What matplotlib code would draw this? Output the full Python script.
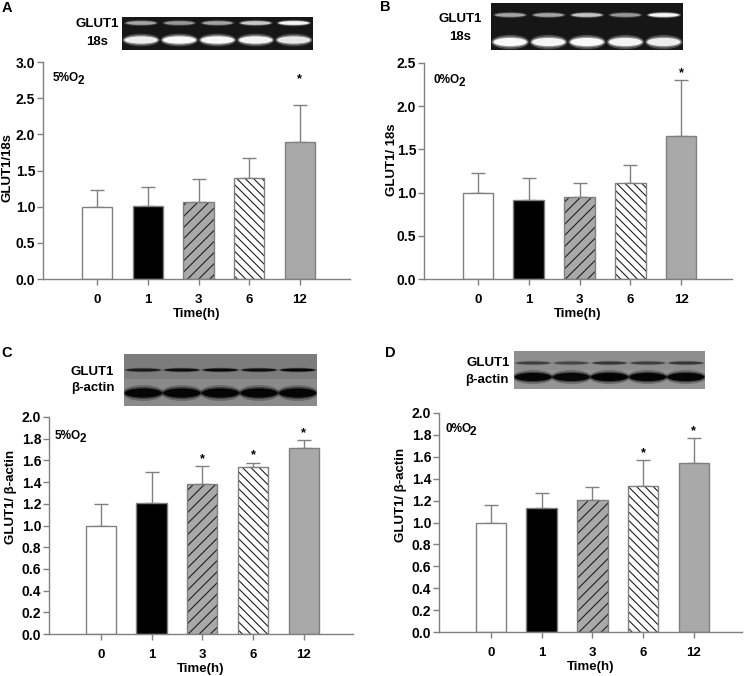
import matplotlib
matplotlib.use('Agg')
import matplotlib.pyplot as plt
from matplotlib.patches import Ellipse, Rectangle
import numpy as np

plt.rcParams['font.family'] = ['Liberation Sans', 'DejaVu Sans']
plt.rcParams['font.weight'] = 'bold'
plt.rcParams['hatch.linewidth'] = 0.8

# ---------------- data ----------------
times = ['0', '1', '3', '6', '12']

a_mean = [1.00, 1.01, 1.06, 1.39, 1.89]
a_upper = [1.23, 1.27, 1.38, 1.67, 2.40]
a_sig = [False, False, False, False, True]

b_mean = [1.00, 0.91, 0.95, 1.11, 1.66]
b_upper = [1.23, 1.17, 1.11, 1.32, 2.30]
b_sig = [False, False, False, False, True]

c_mean = [1.00, 1.21, 1.38, 1.54, 1.71]
c_upper = [1.20, 1.49, 1.55, 1.58, 1.79]
c_sig = [False, False, True, True, True]

d_mean = [1.00, 1.13, 1.21, 1.33, 1.54]
d_upper = [1.16, 1.27, 1.32, 1.57, 1.77]
d_sig = [False, False, False, True, True]

# blot band intensities per lane (0..1)
a_glut1_band = [0.45, 0.40, 0.45, 0.62, 0.92]
a_18s_band = [0.85, 0.95, 0.95, 0.90, 0.80]
b_glut1_band = [0.45, 0.45, 0.60, 0.40, 0.92]
b_18s_band = [0.95, 0.90, 0.95, 0.90, 0.85]
c_glut1_band = [0.65, 0.80, 0.85, 0.80, 0.90]
c_actin_band = [0.92, 0.92, 0.92, 0.92, 0.92]
d_glut1_band = [0.40, 0.35, 0.45, 0.40, 0.45]
d_actin_band = [0.92, 0.88, 0.95, 0.92, 0.92]

# ---------------- styling ----------------
W, H = 745, 676
GRAY = '#808080'
bar_fill = ['white', 'black', '#a9a9a9', 'white', '#a9a9a9']
bar_hatch = [None, None, '///', '\\\\\\\\', None]

fig = plt.figure(figsize=(W / 100, H / 100), dpi=100)


def fr(l, t, r, b):
    return [l / W, 1 - b / H, (r - l) / W, (b - t) / H]


def ftext(x, y, s, **kw):
    fig.text(x / W, 1 - y / H, s, **kw)


def panel(px, xlim, ymax, ystep, means, uppers, sig, star_off, ylabel,
          ylab_px, o2, o2_px):
    l, t, r, b = px
    ax = fig.add_axes(fr(*px))
    x = np.arange(len(times))
    for i in range(len(times)):
        if bar_hatch[i]:
            ax.bar(x[i], means[i], width=0.6, color=bar_fill[i],
                   hatch=bar_hatch[i], edgecolor='#202020', linewidth=0,
                   zorder=2)
            ax.bar(x[i], means[i], width=0.6, fill=False, edgecolor=GRAY,
                   linewidth=1, zorder=3)
        else:
            ax.bar(x[i], means[i], width=0.6, color=bar_fill[i],
                   edgecolor=GRAY, linewidth=1, zorder=2)
    err = np.array(uppers) - np.array(means)
    ax.errorbar(x, means, yerr=[np.zeros_like(err), err], fmt='none',
                ecolor=GRAY, elinewidth=1, capsize=5, capthick=1, zorder=1)
    for i in range(len(times)):
        if sig[i]:
            ax.annotate('*', (x[i], uppers[i]), xytext=(0, star_off * 0.72),
                        textcoords='offset points', ha='center',
                        va='baseline', fontsize=9, fontweight='bold')
    ax.set_xlim(*xlim)
    ax.set_ylim(0, ymax)
    yt = np.arange(0, ymax + 1e-6, ystep)
    ax.set_yticks(yt)
    ax.set_yticklabels(['%.1f' % v for v in yt])
    ax.set_xticks(x)
    ax.set_xticklabels(times)
    for s in ['top', 'right']:
        ax.spines[s].set_visible(False)
    for s in ['left', 'bottom']:
        ax.spines[s].set_color(GRAY)
        ax.spines[s].set_linewidth(1)
    ax.tick_params(axis='y', direction='out', length=4, width=1, color=GRAY,
                   labelsize=10, pad=1.5)
    ax.tick_params(axis='x', direction='out', length=4, width=1, color=GRAY,
                   labelsize=9.5, pad=6.5)
    for lab in ax.get_xticklabels() + ax.get_yticklabels():
        lab.set_fontweight('bold')
    ax.set_xlabel('Time(h)', fontsize=9.5, fontweight='bold')
    ax.xaxis.label.set_va('center')
    ax.xaxis.set_label_coords(0.5, -(35) / (b - t))
    ax.set_ylabel(ylabel, fontsize=9.5, fontweight='bold')
    ax.yaxis.label.set_va('center')
    ax.yaxis.set_label_coords((ylab_px[0] - l) / (r - l),
                              (b - ylab_px[1]) / (b - t))
    # oxygen label: "5%O" followed by a lowered "2"
    ftext(o2_px[0], o2_px[1], o2, fontsize=8.5, fontweight='bold',
          ha='left', va='center')
    ftext(o2_px[0] + 25, o2_px[1] + 3, '2', fontsize=8.5, fontweight='bold',
          ha='left', va='center')
    return ax


def blot(px, bg, bands, light):
    l, t, r, b = px
    ax = fig.add_axes(fr(*px))
    ax.set_xlim(0, 5)
    ax.set_ylim(b, t)
    ax.set_facecolor(bg)
    for s in ax.spines.values():
        s.set_visible(False)
    ax.set_xticks([])
    ax.set_yticks([])
    for yc, th, inten, extra, wmax in bands:
        if extra is not None:
            ax.add_patch(Rectangle((0, extra[0]), 5, extra[1] - extra[0],
                                   color=extra[2], lw=0))
        for i, v in enumerate(inten):
            col = 'white' if light else 'black'
            for k, (wf, hf, af) in enumerate([(wmax, 1.6, 0.25),
                                               (wmax - 0.06, 1.2, 0.45),
                                               (wmax - 0.12, 0.9, 1.0)]):
                ax.add_patch(Ellipse((i + 0.5, yc), wf, th * hf,
                                     color=col, alpha=min(1, v * af), lw=0))
    return ax


# ---------------- panels ----------------
panel((43, 62, 350, 279), (-1.07, 4.99), 3.0, 0.5, a_mean, a_upper, a_sig,
      23, 'GLUT1/18s', (8, 168), '5%O', (53, 78))
panel((424, 63, 732, 279), (-1.06, 5.0), 2.5, 0.5, b_mean, b_upper, b_sig,
      4, 'GLUT1/ 18s', (392, 160), '0%O', (434, 80))
panel((49, 417, 353, 634), (-1.02, 4.97), 2.0, 0.2, c_mean, c_upper, c_sig,
      4, 'GLUT1/ \u03b2-actin', (11, 497), '5%O', (55, 436))
panel((439, 413, 742, 632), (-1.02, 4.95), 2.0, 0.2, d_mean, d_upper, d_sig,
      4, 'GLUT1/ \u03b2-actin', (401, 495), '0%O', (445, 429))

# ---------------- blots ----------------
blot((122, 17, 313, 50), '#161616',
     [(23, 4, a_glut1_band, None, 0.9), (40, 8, a_18s_band, None, 0.98)], True)
blot((491, 3, 683, 50), '#161616',
     [(15, 4, b_glut1_band, None, 0.9), (42, 9, b_18s_band, None, 0.98)], True)
blot((124, 354, 317, 406), '#8a8a8a',
     [(370, 3, c_glut1_band, (354, 379, '#7c7c7c'), 1.0),
      (393, 10, c_actin_band, None, 1.08)], False)
blot((514, 351, 705, 389), '#959595',
     [(363, 3, d_glut1_band, (351, 370, '#8e8e8e'), 1.0),
      (377, 9, d_actin_band, None, 1.08)], False)

kw = dict(fontsize=9.5, fontweight='bold', ha='center', va='center')
ftext(97, 24, 'GLUT1', **kw)
ftext(97, 42, '18s', **kw)
ftext(460, 19, 'GLUT1', **kw)
ftext(460, 37, '18s', **kw)
ftext(92, 372, 'GLUT1', **kw)
ftext(93, 388, '\u03b2-actin', **kw)
ftext(488, 363, 'GLUT1', **kw)
ftext(487, 380, '\u03b2-actin', **kw)

for lbl, (lx, ly) in zip(['A', 'B', 'C', 'D'],
                         [(7, 8), (385, 7), (7, 353), (390, 353)]):
    ftext(lx, ly, lbl, fontsize=10.5, fontweight='bold', ha='center',
          va='center')

fig.savefig('out.png', dpi=100)
